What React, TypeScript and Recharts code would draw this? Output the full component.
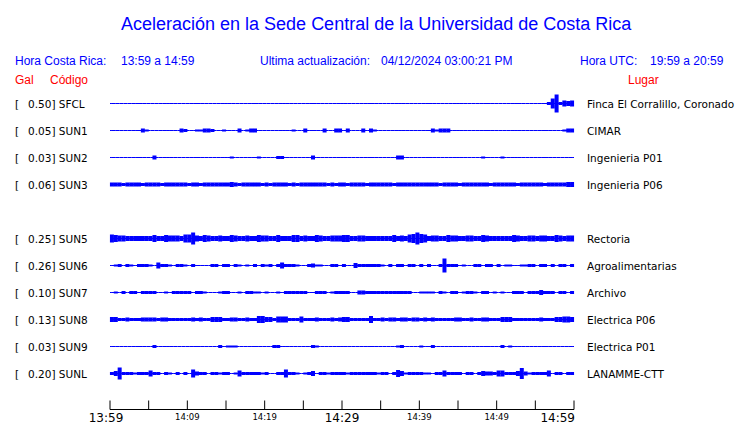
import { ComposedChart, Line, ErrorBar, XAxis, YAxis } from "recharts"

// envelope samples: one every half minute, half-amplitude of the trace in pixels
const STEP = 0.5
const ROW_PX = 27

const CODES = ["SFCL", "SUN1", "SUN2", "SUN3", "SUN5", "SUN6", "SUN7", "SUN8", "SUN9", "SUNL"]
const ROWS = [0, 1, 2, 3, 5, 6, 7, 8, 9, 10]
const GAL = ["0.50", "0.05", "0.03", "0.06", "0.25", "0.26", "0.10", "0.13", "0.03", "0.20"]
const PLACES = [
  "Finca El Corralillo, Coronado",
  "CIMAR",
  "Ingenieria P01",
  "Ingenieria P06",
  "Rectoria",
  "Agroalimentarias",
  "Archivo",
  "Electrica P06",
  "Electrica P01",
  "LANAMME-CTT",
]

const TICKS = [0, 5, 10, 15, 20, 25, 30, 35, 40, 45, 50, 55, 60]
const TICK_LABELS = ["13:59", "", "14:09", "", "14:19", "", "14:29", "", "14:39", "", "14:49", "", "14:59"]

const SFCL = [
  0, 0, 0, 0, 0, 0, 0, 0, 0, 0,
  0, 0, 0, 0, 0, 0, 0, 0, 0, 0,
  0, 0, 0, 0, 0, 0, 0, 0, 0, 0,
  0, 0, 0, 0, 0, 0, 0, 0, 0, 0,
  0, 0, 0, 0, 0, 0, 0, 0, 0, 0,
  0, 0, 0, 0, 0, 0, 0, 0, 0, 0,
  0, 0, 0, 0, 0, 0, 0, 0, 0, 0,
  0, 0, 0, 0, 0, 0, 0, 0, 0, 0,
  0, 0, 0, 0, 0, 0, 0, 0, 0, 0,
  0, 0, 0, 0, 0, 0, 0, 0, 0, 0,
  0, 0, 0, 0, 0, 0.5, 0, 0, 0, 0,
  0, 0, 0, 1.5, 5, 9, 1.5, 3, 2.5, 3,
]
const SUN1 = [
  0, 0, 0, 0, 0, 0, 0, 0, 2, 1,
  0, 0, 0, 0, 0, 0, 0, 0, 2, 1.5,
  0, 0, 1, 1, 2, 2, 1.5, 0, 0, 1,
  0, 0, 0, 2, 0, 1, 2, 2, 0, 0,
  0, 0, 0, 0, 0, 0, 0, 1, 0, 0,
  2, 0, 0, 0, 0, 2, 0, 0, 2, 2,
  0, 2, 0, 0, 0, 2, 0, 2, 1, 0,
  0, 0, 0, 0, 0, 0, 0, 0, 0, 0,
  0, 0, 0, 2, 1, 2, 2, 2, 0, 0,
  0, 0, 0, 0, 0, 0, 0, 0, 0, 0,
  0, 0, 0, 0, 0, 0, 0, 0, 0, 0,
  0, 0, 0, 0, 0, 0, 0, 1, 2, 2,
]
const SUN2 = [
  0, 0, 0, 0, 0, 0, 0, 0, 0, 0,
  0, 2, 0, 0, 0, 0, 0, 0, 0, 0,
  0, 0, 0, 0, 0, 0, 0, 0, 0, 0,
  0, 1, 0, 0, 0, 0, 0, 0, 1, 0,
  0, 0, 0, 1.5, 1.5, 0, 0, 0, 0, 0,
  0, 0, 2, 0, 0, 0, 0, 0, 0, 0,
  0, 0, 0, 0, 0, 0, 0, 0, 0, 0,
  0, 0, 0, 0, 2, 2, 0, 0, 0, 0,
  0, 0, 0, 0, 0, 0, 0, 0, 0, 0,
  0, 0, 0, 0, 0, 0, 1, 0, 0, 0,
  0, 1, 0, 0, 0, 0, 0, 0, 0, 0,
  0, 0, 0, 0, 0, 0, 0, 0, 0, 0,
]
const SUN3 = [
  2, 2, 2, 1.5, 2, 2, 2, 2, 1.5, 2,
  2, 2, 2, 1.5, 2, 2, 2, 2, 2, 2,
  1.5, 2, 2, 1.5, 2, 2, 2, 2, 2, 2,
  2, 2.5, 2, 1.5, 2, 2, 2, 2, 2, 1.5,
  2, 1.5, 2, 2, 2, 2, 1.5, 2, 1.5, 2,
  2, 2, 2, 2, 2, 2, 1.5, 2, 1.5, 2,
  2, 1.5, 2, 2, 2, 2, 1.5, 2, 2, 2,
  2, 2, 2, 1.5, 2, 2, 2, 2, 2, 2,
  2, 2, 2, 2, 2, 1.5, 2, 2, 2, 2,
  1.5, 2, 2, 2, 2, 2, 2, 2, 1.5, 2,
  2, 2, 2, 2, 2, 1.5, 2, 2, 2, 2,
  2, 2, 1.5, 2, 2, 2, 2, 2, 2.5, 2.5,
]
const SUN5 = [
  4, 3.5, 3, 3, 2.5, 2.5, 2.5, 2.5, 2.5, 2.5,
  2.5, 3.5, 2.5, 2.5, 3.5, 3, 3, 3, 2.5, 4,
  4, 6, 3, 2.5, 3.5, 3, 2.5, 2.5, 3, 2.5,
  2.5, 3.5, 3, 2.5, 2.5, 3, 2.5, 2.5, 3.5, 3,
  3, 2.5, 2.5, 3.5, 2.5, 2.5, 2.5, 3.5, 3.5, 2.5,
  3, 2.5, 2.5, 3.5, 3, 2.5, 2.5, 3, 3, 3,
  3.5, 3.5, 2.5, 2.5, 3, 3, 2.5, 2.5, 2.5, 2.5,
  2.5, 2.5, 2.5, 3.5, 2.5, 3, 2.5, 4, 4.5, 6,
  4.5, 4, 2.5, 3, 3, 2.5, 2.5, 3.5, 3, 3,
  2.5, 2.5, 3, 3, 2.5, 2.5, 3.5, 3, 2.5, 2.5,
  2.5, 2.5, 2.5, 2.5, 3.5, 3, 2.5, 2.5, 3, 3,
  2.5, 3, 3, 2.5, 2.5, 3.5, 3, 2.5, 3, 3,
]
const SUN6 = [
  0, 1, 1.5, 0, 1.5, 1, 0, 1.5, 1.5, 1.5,
  1, 0, 3, 1.5, 1.5, 1, 0, 1.5, 1.5, 1,
  0, 1.5, 0, 0, 0, 0, 1.5, 1.5, 0, 1.5,
  1.5, 0, 1.5, 1, 0, 1, 0, 1.5, 0, 1.5,
  1, 1.5, 0, 1.5, 3, 1.5, 1.5, 1.5, 1, 0,
  0, 1.5, 2, 1, 1, 0, 0, 1.5, 1.5, 0,
  1.5, 0, 0, 2.5, 1.5, 1.5, 1.5, 1.5, 1.5, 1.5,
  1, 0, 1.5, 0, 1.5, 1.5, 0, 1.5, 1.5, 0,
  1.5, 0, 1.5, 0, 0, 1.5, 7, 1.5, 1.5, 1.5,
  0, 1, 0, 0, 1.5, 1.5, 0, 1.5, 1.5, 0,
  1.5, 0, 1, 1, 0, 0, 1, 1, 1.5, 1.5,
  0, 1.5, 1.5, 0, 1.5, 0, 1.5, 1.5, 0, 1.5,
]
const SUN7 = [
  0, 1, 0, 1.5, 0, 1.5, 1.5, 0, 1.5, 1.5,
  1.5, 1.5, 0, 0, 1, 0, 1.5, 1.5, 1.5, 1.5,
  1.5, 0, 1.5, 1.5, 1, 0, 0, 0, 1, 1.5,
  1.5, 0, 0, 1, 0, 1.5, 1.5, 1, 1, 0,
  1, 0, 0, 1, 0, 1.5, 1.5, 1.5, 1.5, 1.5,
  1.5, 0, 0, 1.5, 1.5, 1.5, 0, 1, 1.5, 1.5,
  1.5, 1.5, 0, 0, 2, 2, 1.5, 1.5, 1.5, 1.5,
  1.5, 1.5, 1.5, 1.5, 1.5, 1.5, 1.5, 1.5, 0, 0,
  1, 1, 1, 1, 0, 1.5, 1, 0, 1.5, 1.5,
  0, 1, 1.5, 1.5, 1, 0, 1.5, 1.5, 0, 1,
  0, 1, 0, 0, 1.5, 1.5, 1.5, 0, 1.5, 1.5,
  1.5, 2.5, 1.5, 1.5, 1.5, 0, 1.5, 1.5, 0, 1.5,
]
const SUN8 = [
  2.5, 2.5, 1.5, 1.5, 2, 1.5, 1.5, 1.5, 2, 2,
  2, 2, 1.5, 2, 2, 1.5, 1.5, 1.5, 1.5, 1.5,
  1.5, 2, 1.5, 2, 1.5, 1.5, 2.5, 2.5, 2.5, 1.5,
  1.5, 2, 2, 1.5, 1.5, 2, 1.5, 1.5, 3.5, 3.5,
  2.5, 2.5, 1.5, 3, 3, 3, 1.5, 1.5, 1.5, 3,
  1.5, 1.5, 1.5, 2, 1.5, 1.5, 1.5, 2, 1.5, 2,
  2.5, 2.5, 1.5, 1.5, 1.5, 1.5, 1.5, 3.5, 1.5, 1.5,
  2, 1.5, 2, 2, 1.5, 2, 2, 1.5, 2, 2,
  1.5, 2, 1.5, 2, 1.5, 1.5, 1.5, 1.5, 1.5, 2,
  2, 1.5, 1.5, 2, 1.5, 1.5, 2, 2, 1.5, 1.5,
  1.5, 2.5, 2.5, 2.5, 1.5, 1.5, 1.5, 1.5, 1.5, 1.5,
  1.5, 2, 1.5, 1.5, 1.5, 2.5, 2.5, 3, 3, 2.5,
]
const SUN9 = [
  0, 0, 0, 0, 0, 0, 0, 0, 0, 0,
  0, 1.5, 0, 0, 0, 0, 0, 0, 0, 0,
  0, 0, 0, 0, 0, 0, 0, 0, 1.5, 0,
  1, 1, 1, 0, 0, 0, 0, 0, 0, 0,
  0, 0, 1.5, 1.5, 0, 0, 0, 0, 0, 0,
  0, 0, 1.5, 1, 0, 0, 0, 0, 0, 0,
  0, 0, 0, 0, 0, 0, 0, 0, 0, 0,
  0, 0, 0, 0, 1, 1.5, 0, 0, 0, 0,
  1, 0, 0, 1.5, 0, 0, 0, 0, 0, 0,
  0, 0, 0, 0, 0, 0, 0, 0, 0, 0,
  0, 1.5, 0, 1, 0, 0, 0, 0, 0, 0,
  0, 0, 0, 0, 0, 0, 0, 0, 0, 0,
]
const SUNL = [
  1.5, 2.5, 6, 1.5, 1.5, 1.5, 1, 1.5, 1.5, 1.5,
  3, 1.5, 1.5, 0, 1.5, 1, 0, 1.5, 0, 1.5,
  0, 4, 2, 1.5, 1.5, 0, 1.5, 1.5, 1, 1.5,
  1.5, 0, 1, 3, 1.5, 1.5, 1.5, 1.5, 1.5, 1,
  1.5, 0, 0, 1.5, 1.5, 4, 1.5, 1.5, 1, 0,
  1, 1.5, 2.5, 0, 1.5, 1.5, 1, 1.5, 1.5, 1.5,
  1.5, 1, 1.5, 1.5, 1.5, 1.5, 1.5, 1.5, 1.5, 1,
  1.5, 1.5, 0, 1.5, 3.5, 2.5, 1, 1.5, 1.5, 1.5,
  1.5, 1, 1, 0, 1.5, 1.5, 3, 1.5, 1.5, 1.5,
  1.5, 0, 1.5, 1.5, 0, 1.5, 2.5, 2, 2, 1.5,
  3, 3, 1.5, 1.5, 1.5, 2.5, 5.5, 2, 1, 1.5,
  1.5, 1.5, 1.5, 3, 0, 1.5, 1.5, 0, 1.5, 1.5,
]

const TRACES = [SFCL, SUN1, SUN2, SUN3, SUN5, SUN6, SUN7, SUN8, SUN9, SUNL]

const BLUE = "#0000ff"
const RED = "#ff0000"
const LABEL_FONT = "'DejaVu Sans', sans-serif"
const HEAD_FONT = "'Liberation Sans', Arial, sans-serif"

function makeRows() {
  const rows: any[] = []
  const edge = (t: number) => {
    const r: any = { t }
    CODES.forEach((c, i) => {
      r[c] = ROWS[i]
      r[c + "_e"] = null
    })
    return r
  }
  rows.push(edge(0))
  for (let k = 0; k < SFCL.length; k++) {
    const r: any = { t: (k + 0.5) * STEP }
    CODES.forEach((c, i) => {
      const a = TRACES[i][k]
      r[c] = ROWS[i]
      // no error bar where the trace is flat
      r[c + "_e"] = a > 0 ? a / ROW_PX : null
    })
    rows.push(r)
  }
  rows.push(edge(60))
  return rows
}

const data = makeRows()

function StationTick(props: any) {
  const { y, payload } = props
  const i = ROWS.indexOf(payload.value)
  if (i < 0) return null
  return (
    <g fontFamily={LABEL_FONT} fontSize={10.5} fill="#000">
      <text x={15} y={y + 4}>[</text>
      <text x={28} y={y + 4}>{GAL[i]}] {CODES[i]}</text>
      <text x={587} y={y + 4}>{PLACES[i]}</text>
    </g>
  )
}

function TimeTick(props: any) {
  const { x, y, payload } = props
  const idx = Math.round(payload.value / 5)
  const label = TICK_LABELS[idx]
  const big = idx % 6 === 0
  let anchor = "middle"
  let tx = x
  if (idx === 0) tx = x - 4
  if (idx === 12) {
    anchor = "end"
    tx = x + 1
  }
  return (
    <g>
      <line x1={x} x2={x} y1={y - 9} y2={y} stroke="#000" strokeWidth={1} />
      {label && (
        <text
          x={tx}
          y={big ? y + 12 : y + 10}
          textAnchor={anchor as any}
          fontFamily={LABEL_FONT}
          fontSize={big ? 12 : 8.5}
          fill="#000"
        >
          {label}
        </text>
      )}
    </g>
  )
}

export default function App() {
  return (
    <div style={{ position: "absolute", left: 0, top: 0, width: 740, height: 423, background: "#fff" }}>
      <ComposedChart width={740} height={423} data={data} margin={{ top: 90, right: 166, bottom: 0, left: 0 }}>
        <XAxis
          type="number"
          dataKey="t"
          domain={[0, 60]}
          ticks={TICKS}
          interval={0}
          height={13.5}
          tickSize={0}
          tickMargin={0}
          tickLine={false}
          axisLine={{ stroke: "#000" }}
          tick={<TimeTick />}
          allowDataOverflow
        />
        <YAxis
          type="number"
          domain={[-0.5, 11.3333]}
          reversed
          width={110}
          ticks={ROWS}
          interval={0}
          tickLine={false}
          axisLine={false}
          tick={<StationTick />}
          allowDataOverflow
        />
        {CODES.map((c) => (
          <Line
            key={c}
            dataKey={c}
            stroke={BLUE}
            strokeWidth={1}
            dot={false}
            activeDot={false}
            isAnimationActive={false}
          >
            <ErrorBar dataKey={c + "_e"} width={0} stroke={BLUE} strokeWidth={4} direction="y" isAnimationActive={false} />
          </Line>
        ))}
      </ComposedChart>
      <svg width={740} height={423} style={{ position: "absolute", left: 0, top: 0, pointerEvents: "none" }}>
        <g fontFamily={HEAD_FONT}>
          <text x={121} y={30} fontSize={18} fill={BLUE}>
            Aceleración en la Sede Central de la Universidad de Costa Rica
          </text>
          <g fontSize={12} fill={BLUE}>
            <text x={15} y={65}>Hora Costa Rica:</text>
            <text x={121} y={65}>13:59 a 14:59</text>
            <text x={260} y={65}>Ultima actualización:</text>
            <text x={381} y={65}>04/12/2024 03:00:21 PM</text>
            <text x={580} y={65}>Hora UTC:</text>
            <text x={650} y={65}>19:59 a 20:59</text>
          </g>
          <g fontSize={12} fill={RED}>
            <text x={15} y={84}>Gal</text>
            <text x={50} y={84}>Código</text>
            <text x={628} y={84}>Lugar</text>
          </g>
        </g>
      </svg>
    </div>
  )
}
